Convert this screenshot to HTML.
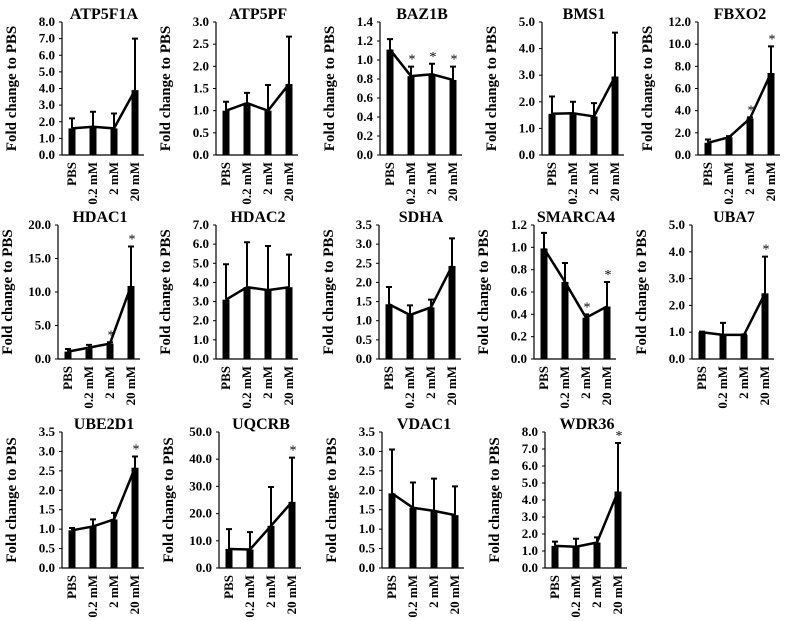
<!DOCTYPE html>
<html><head><meta charset="utf-8"><style>
html,body{margin:0;padding:0;background:#fff;}
svg{display:block;font-family:"Liberation Serif",serif;font-weight:bold;}
</style></head><body>
<svg id="fig" width="788" height="621" viewBox="0 0 788 621"></svg>
<script>
const genes=["ATP5F1A","ATP5PF","BAZ1B","BMS1","FBXO2","HDAC1","HDAC2","SDHA","SMARCA4","UBA7","UBE2D1","UQCRB","VDAC1","WDR36"];
const categories=["PBS","0.2 mM","2 mM","20 mM"];
const yMax=[8,3,1.4,5,12,20,7,3.5,1.2,5,3.5,50,3.5,8];
const yStep=[1,0.5,0.2,1,2,5,1,0.5,0.2,1,0.5,10,0.5,1];
const values=[
[1.6,1.7,1.6,3.9],[1.0,1.17,1.0,1.6],[1.11,0.83,0.85,0.79],[1.55,1.57,1.45,2.95],[1.1,1.6,3.3,7.4],
[1.1,1.7,2.3,10.9],[3.1,3.75,3.6,3.75],[1.43,1.15,1.35,2.43],[0.99,0.69,0.37,0.47],[1.0,0.9,0.9,2.45],
[0.97,1.07,1.25,2.58],[7,6.8,15.5,24.3],[1.92,1.55,1.47,1.36],[1.3,1.25,1.5,4.5]];
const errTops=[
[2.2,2.6,2.5,7.0],[1.2,1.4,1.58,2.67],[1.22,0.93,0.96,0.93],[2.2,2.0,1.95,4.6],[1.4,1.7,3.4,9.8],
[1.5,2.1,2.5,16.8],[4.95,6.1,5.9,5.45],[1.88,1.4,1.55,3.15],[1.13,0.86,0.4,0.69],[1.02,1.35,0.92,3.82],
[1.03,1.25,1.42,2.87],[14.3,13.2,29.8,40.6],[3.05,2.2,2.3,2.1],[1.55,1.72,1.8,7.35]];
const stars=[
[0,0,0,0],[0,0,0,0],[0,1,1,1],[0,0,0,0],[0,0,1,1],
[0,0,1,1],[0,0,0,0],[0,0,0,0],[0,0,1,1],[0,0,0,1],
[0,0,0,1],[0,0,0,1],[0,0,0,0],[0,0,0,1]];

const axisXs=[62,216,380,542,698, 58,216,379,534,692, 62,219,382,545];
const rows=[[22,155],[225,359],[432,568]];
const NS="http://www.w3.org/2000/svg";
const svg=document.getElementById('fig');
function mk(tag,attrs,parent){const e=document.createElementNS(NS,tag);for(const k in attrs)e.setAttribute(k,attrs[k]);(parent||svg).appendChild(e);return e;}

genes.forEach((g,i)=>{
  const ax=axisXs[i];
  const [top,bot]=rows[Math.floor(i/5)];
  const grp=mk('g',{});
  
  
  const y=v=>bot-(v/yMax[i])*(bot-top);
  const bx=k=>ax+10+k*21;
  const ya=mk('line',{x1:ax,y1:top,x2:ax,y2:bot,stroke:'#000','stroke-width':1.2},grp);
  
  
  const xa=mk('line',{x1:ax,y1:bot,x2:ax+82,y2:bot,stroke:'#000','stroke-width':1.2},grp);
  
  
  const n=Math.round(yMax[i]/yStep[i]);
  for(let t=0;t<=n;t++){
    const v=t*yStep[i];
    mk('line',{x1:ax-3,y1:y(v),x2:ax,y2:y(v),stroke:'#000','stroke-width':1},grp);
    const tl=mk('text',{x:ax-7,y:y(v)+4,'text-anchor':'end','font-size':13},grp);
    tl.textContent=v.toFixed(1);
    
    
  }
  const ti=mk('text',{x:ax+42,y:top-3,'text-anchor':'middle','font-size':16},grp);
  ti.textContent=g;
  
  
  const yt=mk('text',{x:0,y:0,'text-anchor':'middle','font-size':15,transform:`translate(${ax-46},${(top+bot)/2}) rotate(-90)`},grp);
  yt.textContent='Fold change to PBS';
  
  
  categories.forEach((c,k)=>{
    const v=values[i][k], et=errTops[i][k];
    const b=mk('rect',{x:bx(k)-3.5,y:y(v),width:7,height:bot-y(v),fill:'#000'},grp);
    
    
    const e=mk('path',{d:`M${bx(k)},${y(v)}V${y(et)}M${bx(k)-3},${y(et)}H${bx(k)+3}`,stroke:'#000','stroke-width':2,fill:'none'},grp);
    
    
    if(stars[i][k]){
      const s=mk('text',{x:bx(k)+1,y:y(et)-3,'text-anchor':'middle','font-size':14,'font-weight':'normal'},grp);
      s.textContent='*';
      
      
    }
    const xl=mk('text',{x:0,y:0,'text-anchor':'end','font-size':13,transform:`translate(${bx(k)+4},${bot+7}) rotate(-90)`},grp);
    xl.textContent=c;
    
    
  });
  const ln=mk('polyline',{points:values[i].map((v,k)=>bx(k)+','+y(v)).join(' '),fill:'none',stroke:'#000','stroke-width':2.5},grp);
  
  
});
</script>
</body></html>
